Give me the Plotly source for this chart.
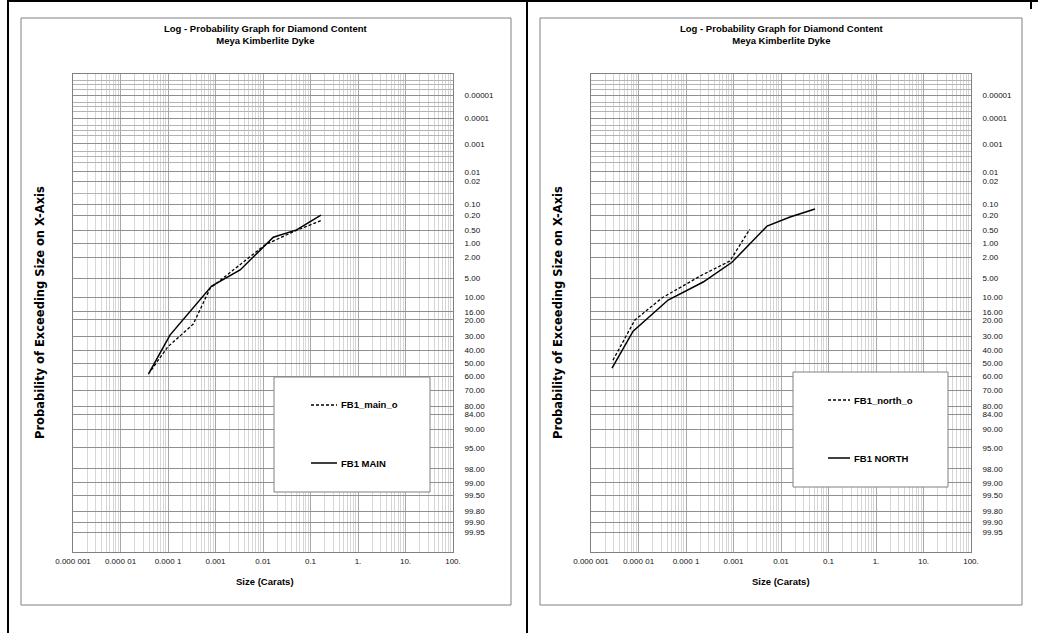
import plotly.graph_objects as go
from statistics import NormalDist

W, H = 1038, 633

# ---- data: size (carats) vs. probability of exceeding (%) ----
main_o_size = [3.85e-5, 9.9e-5, 3.4e-4, 7.7e-4, 0.011, 0.0435, 0.166]
main_o_pct = [58.5, 37.6, 22.4, 7.3, 1.08, 0.53, 0.28]

main_size = [4.0e-5, 1.1e-4, 8.3e-4, 3.3e-3, 0.0165, 0.051, 0.166]
main_pct = [57.5, 29.3, 6.7, 3.5, 0.72, 0.48, 0.20]

north_o_size = [2.9e-6, 8.4e-6, 3.1e-5, 2.0e-4, 8.4e-4, 2.2e-3]
north_o_pct = [47.7, 20.1, 10.3, 4.5, 2.36, 0.46]

north_size = [2.77e-6, 7.7e-6, 4.2e-5, 2.3e-4, 9.3e-4, 5.1e-3, 0.0155, 0.052]
north_pct = [53.8, 26.7, 11.0, 5.75, 2.5, 0.385, 0.225, 0.137]

# ---- axis ticks ----
prob_labels = [0.00001, 0.0001, 0.001, 0.01, 0.02, 0.10, 0.20, 0.50, 1, 2, 5, 10,
               16, 20, 30, 40, 50, 60, 70, 80, 84, 90, 95, 98, 99, 99.5, 99.8,
               99.9, 99.95]
prob_text = ["0.00001", "0.0001", "0.001", "0.01", "0.02", "0.10", "0.20", "0.50",
             "1.00", "2.00", "5.00", "10.00", "16.00", "20.00", "30.00", "40.00",
             "50.00", "60.00", "70.00", "80.00", "84.00", "90.00", "95.00", "98.00",
             "99.00", "99.50", "99.80", "99.90", "99.95"]
prob_extra_grid = [0.000002, 0.000003, 0.000005, 0.00002, 0.00003, 0.00005,
                   0.0002, 0.0003, 0.0005, 0.002, 0.003, 0.005, 0.05]
prob_range = [99.988, 0.00000095]

size_ticks = [1e-6, 1e-5, 1e-4, 1e-3, 1e-2, 1e-1, 1, 10, 100]
size_text = ["0.000 001", "0.000 01", "0.000 1", "0.001", "0.01", "0.1", "1.",
             "10.", "100."]
size_minor = [k * 10.0 ** e for e in range(-6, 2) for k in range(2, 10)]

series_names = ["FB1_main_o", "FB1 MAIN", "FB1_north_o", "FB1 NORTH"]
title_text = "Log - Probability Graph for Diamond Content<br>Meya Kimberlite Dyke"
y_title = "Probability of Exceeding Size on X-Axis"
x_title = "Size (Carats)"

FONT = "Liberation Sans, Arial, sans-serif"
WIDE_FONT = "DejaVu Sans, Verdana, sans-serif"
nd = NormalDist()


def zq(pct):
    """Normal-probability scale position for a percentage."""
    return nd.inv_cdf(pct / 100.0)


def px(x):
    return x / W


def py(y):
    return 1 - y / H


fig = go.Figure()

dash_line = dict(color="black", width=1.3, dash="3px,2px")
solid_line = dict(color="black", width=1.5)

fig.add_trace(go.Scatter(x=main_o_size, y=[zq(p) for p in main_o_pct], mode="lines",
                         line=dash_line, name=series_names[0], xaxis="x", yaxis="y"))
fig.add_trace(go.Scatter(x=main_size, y=[zq(p) for p in main_pct], mode="lines",
                         line=solid_line, name=series_names[1], xaxis="x", yaxis="y"))
fig.add_trace(go.Scatter(x=north_o_size, y=[zq(p) for p in north_o_pct], mode="lines",
                         line=dash_line, name=series_names[2], xaxis="x2", yaxis="y2"))
fig.add_trace(go.Scatter(x=north_size, y=[zq(p) for p in north_pct], mode="lines",
                         line=solid_line, name=series_names[3], xaxis="x2", yaxis="y2"))


def x_axis(domain, anchor):
    return dict(
        type="log", range=[-6, 2], domain=domain, anchor=anchor, automargin=False,
        tickmode="array", tickvals=size_ticks, ticktext=size_text, ticks="",
        showgrid=True, gridcolor="#a8a8a8", gridwidth=1,
        minor=dict(tickmode="array", tickvals=size_minor, showgrid=True,
                   gridcolor="#d6d6d6", gridwidth=1, ticks=""),
        showline=True, mirror=True, linecolor="#808080", linewidth=1,
        zeroline=False, tickfont=dict(family=FONT, size=8, color="#111"),
        ticklabelstandoff=1, fixedrange=True,
    )


def y_axis(domain, anchor):
    return dict(
        range=[zq(prob_range[0]), zq(prob_range[1])], domain=domain, anchor=anchor,
        automargin=False, side="right", tickmode="array",
        tickvals=[zq(p) for p in prob_labels], ticktext=prob_text, ticks="",
        showgrid=True, gridcolor="#8f8f8f", gridwidth=1,
        minor=dict(tickmode="array", tickvals=[zq(p) for p in prob_extra_grid],
                   showgrid=True, gridcolor="#b4b4b4", gridwidth=1, ticks=""),
        showline=True, mirror=True, linecolor="#808080", linewidth=1,
        zeroline=False, tickfont=dict(family=FONT, size=8, color="#111"),
        ticklabelstandoff=9, fixedrange=True,
    )


ydom = [py(552), py(74)]
fig.update_layout(
    width=W, height=H, autosize=False,
    margin=dict(l=0, r=0, t=0, b=0, pad=0, autoexpand=False),
    paper_bgcolor="white", plot_bgcolor="white",
    showlegend=False,
    font=dict(family=FONT, color="black"),
    xaxis=x_axis([px(73), px(453)], "y"),
    yaxis=y_axis(ydom, "x"),
    xaxis2=x_axis([px(591), px(971)], "y2"),
    yaxis2=y_axis(ydom, "x2"),
)

shapes = []
annotations = []

# page rules
for (x0, y0, x1, y1) in [(8, 0, 8, H), (527, 0, 527, H), (8, 1, W, 1), (1031, 0, 1031, 9)]:
    shapes.append(dict(type="line", xref="paper", yref="paper",
                       x0=px(x0), y0=py(y0), x1=px(x1), y1=py(y1),
                       line=dict(color="black", width=2), layer="above"))

panels = [
    dict(frame=(21, 18, 511, 605), cx=265, ytx=40, legend=(274, 377, 430, 492),
         sample_x=(311, 337), text_x=339, rows=(405, 463), names=series_names[0:2]),
    dict(frame=(540, 18, 1022, 605), cx=781, ytx=558, legend=(793, 372, 948, 487),
         sample_x=(828, 850), text_x=852, rows=(400, 458), names=series_names[2:4]),
]

for p in panels:
    fx0, fy0, fx1, fy1 = p["frame"]
    shapes.append(dict(type="rect", xref="paper", yref="paper",
                       x0=px(fx0), y0=py(fy1), x1=px(fx1), y1=py(fy0),
                       line=dict(color="#808080", width=1), layer="below"))
    annotations.append(dict(text="<b>" + title_text + "</b>", x=px(p["cx"]), y=py(35),
                            xref="paper", yref="paper", showarrow=False,
                            xanchor="center", yanchor="middle",
                            font=dict(family=FONT, size=9.5, color="black")))
    annotations.append(dict(text="<b>" + y_title + "</b>", x=px(p["ytx"]), y=py(313),
                            xref="paper", yref="paper", showarrow=False, textangle=-90,
                            xanchor="center", yanchor="middle",
                            font=dict(family=WIDE_FONT, size=11.5, color="black")))
    annotations.append(dict(text="<b>" + x_title + "</b>", x=px(p["cx"]), y=py(581),
                            xref="paper", yref="paper", showarrow=False,
                            xanchor="center", yanchor="middle",
                            font=dict(family=FONT, size=9.5, color="black")))
    # legend box
    lx0, ly0, lx1, ly1 = p["legend"]
    shapes.append(dict(type="rect", xref="paper", yref="paper",
                       x0=px(lx0), y0=py(ly1), x1=px(lx1), y1=py(ly0),
                       fillcolor="white", line=dict(color="#808080", width=1),
                       layer="above"))
    for name, row, style in zip(p["names"], p["rows"], (dash_line, solid_line)):
        shapes.append(dict(type="line", xref="paper", yref="paper",
                           x0=px(p["sample_x"][0]), x1=px(p["sample_x"][1]),
                           y0=py(row), y1=py(row),
                           line=dict(color="black", width=style["width"],
                                     dash=style.get("dash", "solid")),
                           layer="above"))
        annotations.append(dict(text="<b>" + name + "</b>", x=px(p["text_x"]), y=py(row),
                                xref="paper", yref="paper", showarrow=False,
                                xanchor="left", yanchor="middle",
                                font=dict(family=FONT, size=9.5, color="black")))

fig.update_layout(shapes=shapes, annotations=annotations)

fig.write_html("out.html")
